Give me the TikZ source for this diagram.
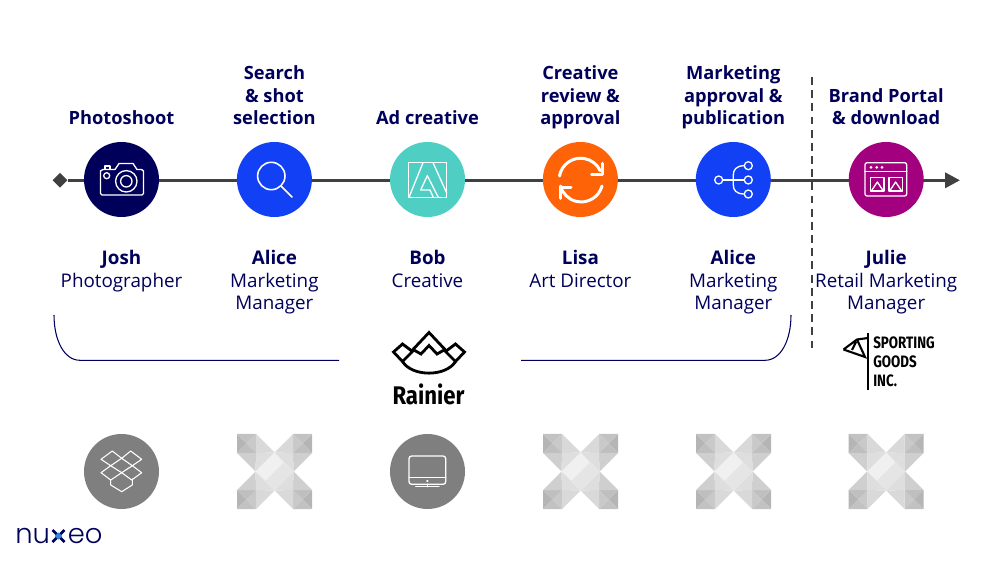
\documentclass[tikz,border=0pt]{standalone}
\usepackage{fontspec}
\setmainfont{Open Sans}
\newfontfamily\logofont{Fira Sans}
\newfontfamily\nuxeofont{Poppins Light}
\usetikzlibrary{arrows.meta, shapes.geometric}
\definecolor{navy}{HTML}{00005A}
\definecolor{royal}{HTML}{1240F5}
\definecolor{teal}{HTML}{4FCFC4}
\definecolor{tangerine}{HTML}{FF6308}
\definecolor{plum}{HTML}{A3007F}
\definecolor{dkgray}{HTML}{404040}
\definecolor{wmgray}{HTML}{7F7F7F}
\tikzset{
  stepdot/.style={circle, minimum size=75*0.02cm, inner sep=0pt},
  headtext/.style={anchor=south, align=center, inner sep=0pt, text=navy,
    font=\fontsize{10.4}{12.8}\selectfont\bfseries, execute at end node=\strut},
  persontext/.style={anchor=north, align=center, inner sep=0pt, text=navy,
    font=\fontsize{10.7}{12.8}\selectfont, execute at begin node=\strut},
  icon/.style={white, line width=0.75pt, line join=round, line cap=round},
  logoline/.style={black, line width=1.6pt, line join=miter}
}

\begin{document}
\begin{tikzpicture}[x=0.02cm, y=-0.02cm, >={Triangle[length=8.5pt, width=8.5pt]}]

% Background
\path[use as bounding box] (0,0) rectangle (1000,563);

% Timeline
\node[diamond, fill=dkgray, minimum size=15*0.02cm, inner sep=0pt] (start) at (60,180.3) {};
\coordinate (finish) at (960,180.3);
\draw[dkgray, line width=2pt, ->] (start) -- (finish);

% Split between the two companies
\coordinate (splittop) at (812,77);
\coordinate (splitbottom) at (812,352);
\draw[dkgray, line width=1.2pt, dash pattern=on 4.5pt off 3pt] (splittop) -- (splitbottom);

% Step circles
\node[stepdot, fill=navy] (shoot) at (121.5,179.5) {};
\node[stepdot, fill=royal] (search) at (274.4,179.5) {};
\node[stepdot, fill=teal] (adcreative) at (427.5,179.5) {};
\node[stepdot, fill=tangerine] (review) at (580.4,179.5) {};
\node[stepdot, fill=royal] (publish) at (733.3,179.5) {};
\node[stepdot, fill=plum] (portal) at (886.2,179.5) {};

% Step titles
\node[headtext] (shoothead) at (121.5,132) {Photoshoot};
\node[headtext] (searchhead) at (274.4,132) {Search\\\& shot\\selection};
\node[headtext] (adhead) at (427.5,132) {Ad creative};
\node[headtext] (reviewhead) at (580.4,132) {Creative\\review \&\\approval};
\node[headtext] (publishhead) at (733.3,132) {Marketing\\approval \&\\publication};
\node[headtext] (portalhead) at (886.2,132) {Brand Portal\\\& download};

% People
\node[persontext] (josh) at (121.5,250) {\textbf{Josh}\\Photographer};
\node[persontext] (alice) at (274.4,250) {\textbf{Alice}\\Marketing\\Manager};
\node[persontext] (bob) at (427.5,250) {\textbf{Bob}\\Creative};
\node[persontext] (lisa) at (580.4,250) {\textbf{Lisa}\\Art Director};
\node[persontext] (alicetwo) at (733.3,250) {\textbf{Alice}\\Marketing\\Manager};
\node[persontext] (julie) at (886.2,250) {\textbf{Julie}\\Retail Marketing\\Manager};

% Camera
\draw[icon] (103,169.5) -- (115,169.5) -- (119,163.5) -- (133,163.5) -- (137,169.5) -- (141.5,169.5)
  -- (143.5,171) -- (143.5,193.5) -- (142,195) -- (102,195) -- (100.5,193.5) -- (100.5,171) -- cycle;
\draw[icon] (105,169.5) -- (105,166) -- (110,166) -- (110,169.5);
\draw[icon] (126.3,181.3) circle (10.7) (126.3,181.3) circle (5.7) (106.7,175.7) circle (3);

% Magnifier
\draw[icon, line width=0.9pt] (271.3,176) circle (13.7);
\draw[icon, line width=0.9pt] (281,186) -- (292,197);

% Adobe mark
\draw[icon] (408.7,162.7) rectangle (446.7,197.3);
\draw[icon] (423,162.7) -- (409,197.3) (433,162.7) -- (446.7,193)
  (420.7,190) -- (427.3,175.7) -- (438.3,197.3) (420.7,190) -- (430,190) -- (433.3,197.3);

% Refresh arrows
\draw[icon, line width=1.7pt] (559.5,176) arc (-170:-25:21.5);
\draw[icon, line width=1.7pt] (602.5,163.3) -- (602.5,174.3) -- (591.7,174.3);
\draw[icon, line width=1.7pt] (602,186) arc (15:165:21.5);
\draw[icon, line width=1.7pt] (560,198.3) -- (560,187.3) -- (571,187.3);

% Branches
\draw[icon] (718.7,180) circle (4) (748.3,165.7) circle (4) (748.3,180) circle (4) (748.3,194) circle (4);
\draw[icon] (722.7,180) -- (744.3,180);
\draw[icon] (744.3,165.7) .. controls (736,165.7) and (733.3,170) .. (733.3,175) -- (733.3,185)
  .. controls (733.3,190) and (736,194) .. (744.3,194);

% Browser window
\draw[icon, rounded corners=1.2pt] (865,162.7) rectangle (906.7,196);
\draw[icon] (865,171.7) -- (906.7,171.7);
\foreach \x in {871,876.7,882} {
  \fill[white] (\x,167.3) circle (1.5);
}
\foreach \x in {870.7,889} {
  \draw[icon] (\x,177.3) rectangle (\x+13.3,191);
  \draw[icon] (\x+1,190.5) -- (\x+6.6,182) -- (\x+12.3,190.5);
}

% Customer bracket
\coordinate (leftend) at (54,315);
\coordinate (leftopen) at (339,360.3);
\coordinate (rightopen) at (521,360.3);
\coordinate (rightend) at (791,315);
\draw[navy, line width=0.6pt] (leftend) .. controls (54,340) and (64,360.3) .. (80,360.3) -- (leftopen);
\draw[navy, line width=0.6pt] (rightend) .. controls (791,340) and (781,360.3) .. (765,360.3) -- (rightopen);

% Rainier logo
\draw[logoline] (429,332.5) -- (413,349.5) -- (421,354) -- (429,345.5) -- (437,354) -- (445,349.5) -- cycle;
\draw[logoline] (393.5,352) -- (402.5,344) -- (412.5,351.5) -- (402.5,361.5) -- cycle;
\draw[logoline] (464.5,352) -- (455.5,344) -- (445.5,351.5) -- (455.5,361.5) -- cycle;
\draw[logoline] (402.5,361.5) .. controls (412,377) and (446,377) .. (455.5,361.5);
\node[text=black, font=\logofont\fontsize{14.5}{16}\selectfont\bfseries, xscale=0.87, transform shape] (rainier) at (428.5,394.5) {Rainier};

% Sporting goods logo
\draw[black, line width=1.2pt] (868,333) -- (868,390);
\draw[black, line width=1.2pt, line join=miter] (843.5,349.5) -- (857,339.5) -- (868,338)
  (843.5,349.5) -- (865,357) -- (857,339.5) (856,342) -- (852,350);
\node[text=black, anchor=north west, align=left, inner sep=0pt,
  font=\logofont\fontsize{9.4}{10.9}\selectfont\bfseries, xscale=0.81, transform shape] (sporting) at (873,336)
  {SPORTING\\GOODS\\INC.};

% Systems row
\node[stepdot, fill=wmgray] (dropbox) at (121.5,471.5) {};
\node[stepdot, fill=wmgray] (desktop) at (427.5,471.5) {};

% Dropbox icon
\draw[icon, line width=0.6pt] (101,459.3) -- (112.3,451) -- (121.7,458.3) -- (130.7,451) -- (141.7,459.3)
  -- (132.3,465.7) -- (141.7,472.7) -- (131.7,480) -- (121.7,472.7) -- (110.7,480) -- (101,472.7)
  -- (110.7,465.7) -- cycle;
\draw[icon, line width=0.6pt] (110.7,465.7) -- (121.7,458.3) -- (132.3,465.7) -- (121.7,472.7) -- cycle;
\draw[icon, line width=0.6pt] (110.7,480) -- (110.7,485) -- (121.7,491.7) -- (132.3,485) -- (132.3,479);

% Desktop icon
\draw[icon, rounded corners=1.5pt] (409,456) rectangle (445.7,484.3);
\draw[icon] (409,477.7) -- (445.7,477.7);
\fill[white] (427.3,481) circle (1.2);
\draw[icon] (427.3,484.3) -- (427.3,486.7) (415.7,486.7) -- (439,486.7);

% Placeholder crosses
\foreach \cx in {274.5,580.5,733.5,886.2} {
  \begin{scope}[shift={(\cx,471.5)}]
    \foreach \sx/\sy in {-1/-1,1/-1,-1/1,1/1} {
      % corner pyramid
      \fill[black!29] (\sx*37.5,\sy*37.5) -- (\sx*28,\sy*28) -- (\sx*37.5,\sy*18.5) -- cycle;
      \fill[black!24] (\sx*37.5,\sy*37.5) -- (\sx*28,\sy*28) -- (\sx*18.5,\sy*37.5) -- cycle;
      \fill[black!21] (\sx*18.5,\sy*18.5) -- (\sx*28,\sy*28) -- (\sx*18.5,\sy*37.5) -- cycle;
      \fill[black!25] (\sx*18.5,\sy*18.5) -- (\sx*28,\sy*28) -- (\sx*37.5,\sy*18.5) -- cycle;
      % arm facets
      \fill[black!15] (\sx*18.5,\sy*37.5) -- (0,\sy*19) -- (\sx*18.5,\sy*18.5) -- cycle;
      \fill[black!19] (\sx*37.5,\sy*18.5) -- (\sx*19,0) -- (\sx*18.5,\sy*18.5) -- cycle;
      \fill[black!13] (\sx*18.5,\sy*18.5) -- (0,\sy*19) -- (\sx*19,0) -- cycle;
    }
    % light middle
    \fill[black!10] (-19,0) -- (0,-19) -- (19,0) -- (0,19) -- cycle;
    \fill[black!6] (-19,0) -- (0,-19) -- (9,-9) -- (-9,9) -- cycle;
  \end{scope}
}

% Nuxeo logo
\node[text=navy, anchor=base west, inner sep=0pt, font=\nuxeofont\fontsize{15.6}{16}\selectfont] (nu) at (15,543) {nu};
\node[text=navy, anchor=base west, inner sep=0pt, font=\nuxeofont\fontsize{15.6}{16}\selectfont] (eo) at (67.5,543) {eo};
\draw[navy, line width=1.6pt] (52.5,530) -- (64.5,542) (64.5,530) -- (52.5,542);
\fill[royal!50!teal] (58.5,532.5) -- (62.5,536) -- (58.5,539.5) -- (54.5,536) -- cycle;

\end{tikzpicture}
\end{document}
